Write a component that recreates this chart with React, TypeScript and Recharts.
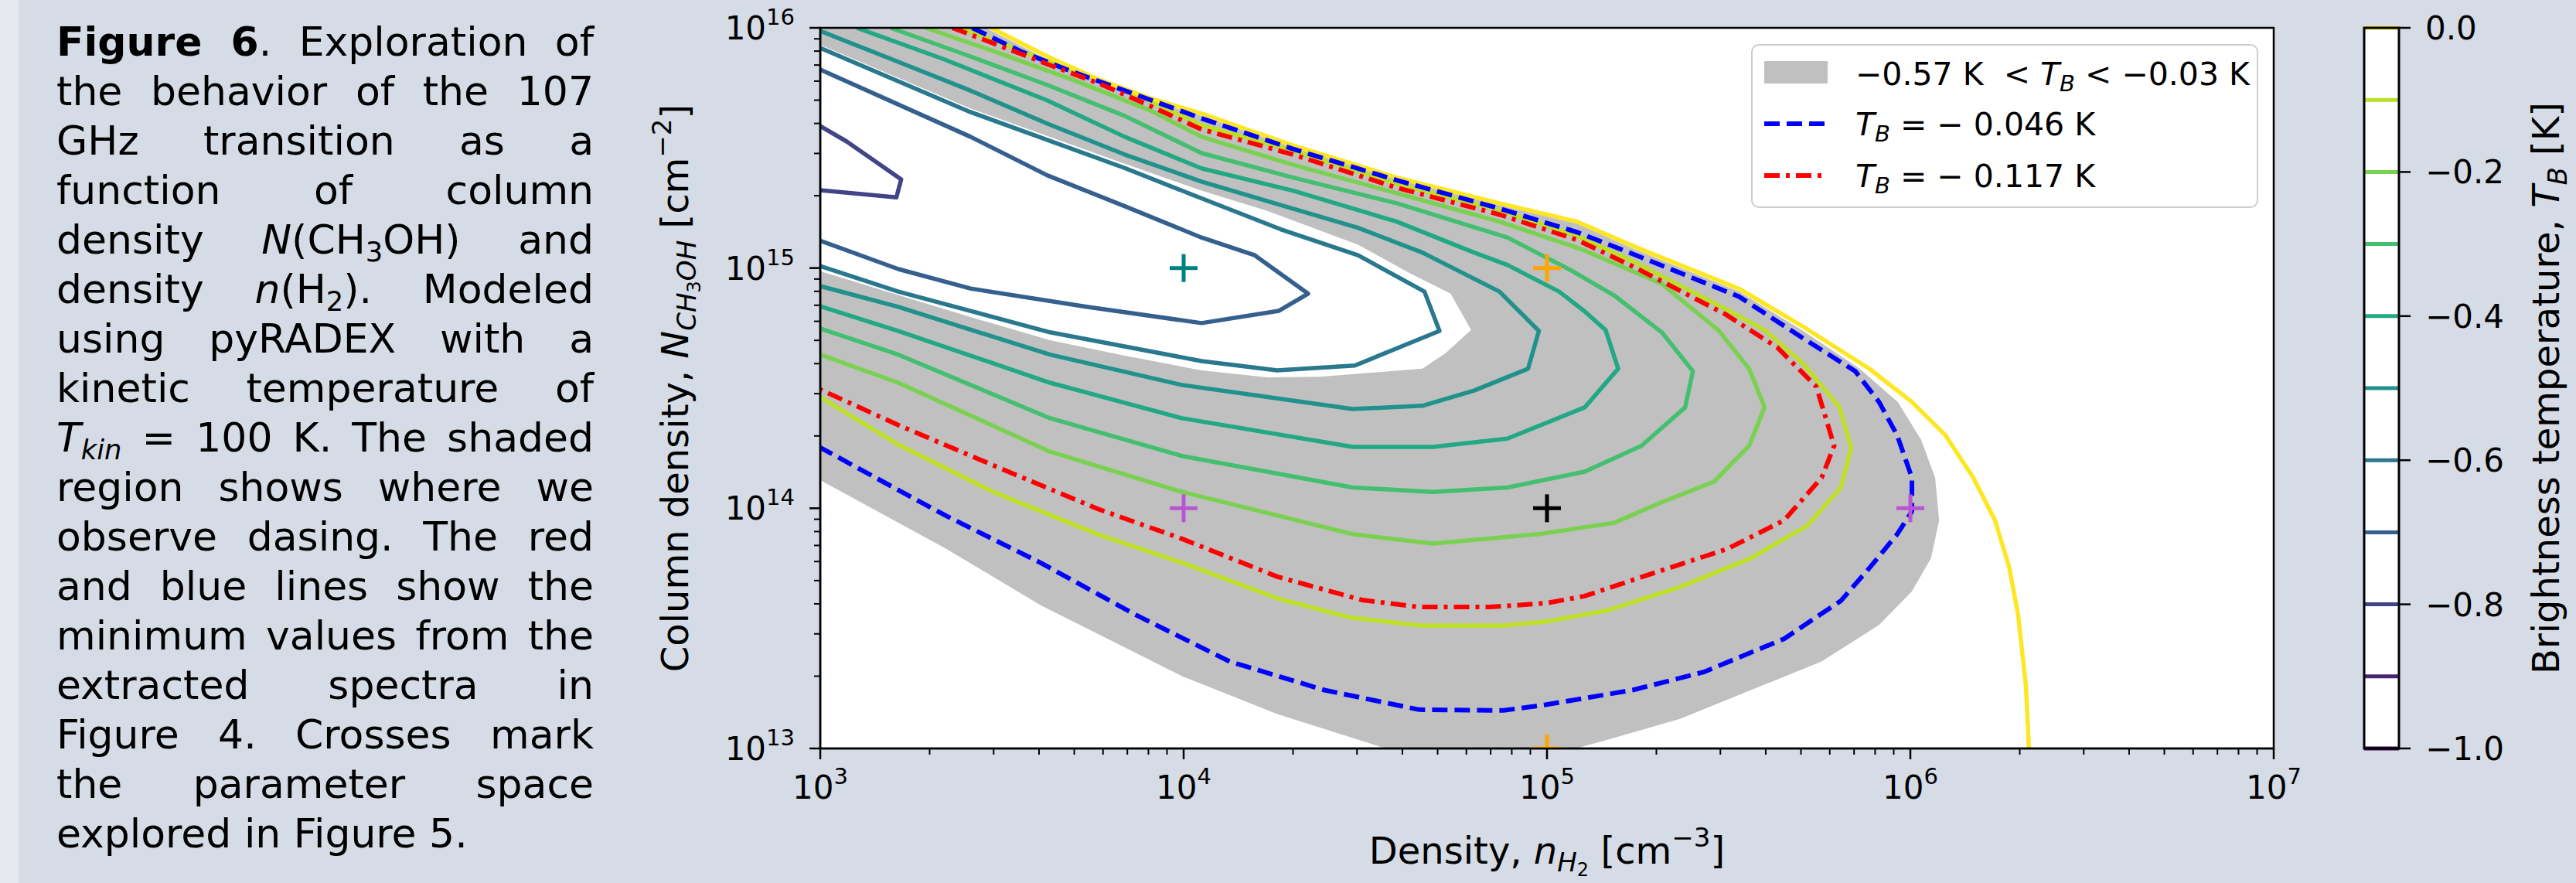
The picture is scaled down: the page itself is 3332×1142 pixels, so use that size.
import React from 'react';
import { ComposedChart, Line, Scatter, XAxis, YAxis, CartesianGrid, ReferenceArea, ReferenceLine } from 'recharts';

const FONT = '"DejaVu Sans", "Liberation Sans", sans-serif';

// axis ticks (log axes, majors + minors)
const xDecades = [1e3, 1e4, 1e5, 1e6, 1e7];
const yDecades = [1e13, 1e14, 1e15, 1e16];
const minorSteps = [2, 3, 4, 5, 6, 7, 8, 9];
const xTicks = [...xDecades, ...xDecades.slice(0, -1).flatMap((d) => minorSteps.map((m) => m * d))];
const yTicks = [...yDecades, ...yDecades.slice(0, -1).flatMap((d) => minorSteps.map((m) => m * d))];

// colorbar
const cbLevels = [-1.0, -0.9, -0.8, -0.7, -0.6, -0.5, -0.4, -0.3, -0.2, -0.1, 0.0];
const cbTicks = [0, -0.2, -0.4, -0.6, -0.8, -1.0];
const viridis = ['#440154', '#482475', '#414487', '#355f8d', '#2a788e', '#21918c', '#22a884', '#44bf70', '#7ad151', '#bddf26', '#fde725'];

// contour lines, [n(H2), N(CH3OH)]
const tb000 = [[2.95e3, 1e16], [4.22e3, 7.6e15], [5.86e3, 6.08e15], [8.09e3, 5.09e15], [1.12e4, 4.4e15], [2.0e4, 3.24e15], [3.86e4, 2.38e15], [7.4e4, 1.86e15], [1.21e5, 1.56e15], [1.76e5, 1.22e15], [3.38e5, 8.2e14], [5.07e5, 5.7e14], [7.73e5, 3.8e14], [1.01e6, 2.77e14], [1.25e6, 2.01e14], [1.49e6, 1.34e14], [1.71e6, 8.9e13], [1.87e6, 5.7e13], [1.98e6, 3.6e13], [2.08e6, 1.82e13], [2.12e6, 1e13]];
const tb010 = [[2.4e3, 1e16], [3.1e3, 8.7e15], [4.28e3, 7.2e15], [5.95e3, 6.04e15], [8.2e3, 4.91e15], [1.12e4, 3.93e15], [2.0e4, 3.08e15], [3.86e4, 2.24e15], [7.4e4, 1.74e15], [1.21e5, 1.36e15], [1.76e5, 1.05e15], [3.11e5, 6.74e14], [3.97e5, 5.52e14], [5.07e5, 4.0e14], [6.38e5, 2.63e14], [6.87e5, 1.79e14], [6.44e5, 1.22e14], [5.22e5, 8.5e13], [3.64e5, 6.2e13], [2.33e5, 4.71e13], [1.48e5, 3.77e13], [9.9e4, 3.37e13], [7.6e4, 3.25e13], [4.45e4, 3.25e13], [2.84e4, 3.52e13], [1.81e4, 4.22e13], [9.9e3, 5.93e13], [5.79e3, 7.8e13], [2.99e3, 1.17e14], [1.64e3, 1.84e14], [1e3, 2.9e14]];
const tb020 = [[1.95e3, 1e16], [3.04e3, 7.94e15], [4.95e3, 6.08e15], [8.09e3, 4.53e15], [1.12e4, 3.52e15], [2.0e4, 2.69e15], [3.86e4, 2.05e15], [7.4e4, 1.56e15], [1.24e5, 1.2e15], [2.07e5, 8.6e14], [2.96e5, 5.52e14], [3.6e5, 3.81e14], [3.97e5, 2.63e14], [3.6e5, 1.82e14], [2.88e5, 1.29e14], [2.07e5, 1.06e14], [1.53e5, 8.7e13], [9.5e4, 7.8e13], [4.85e4, 7.13e13], [2.92e4, 7.8e13], [9.9e3, 1.17e14], [4.29e3, 1.72e14], [1.64e3, 3.33e14], [1e3, 4.36e14]];
const tb030 = [[1.56e3, 1e16], [2.59e3, 7.6e15], [4.22e3, 5.78e15], [6.88e3, 4.3e15], [1.12e4, 3.01e15], [2.0e4, 2.38e15], [3.86e4, 1.86e15], [7.78e4, 1.34e15], [1.17e5, 9.75e14], [1.54e5, 7.64e14], [2.07e5, 5.4e14], [2.52e5, 3.72e14], [2.4e5, 2.63e14], [1.82e5, 1.82e14], [1.27e5, 1.42e14], [7.78e4, 1.22e14], [4.85e4, 1.17e14], [2.92e4, 1.22e14], [9.9e3, 1.65e14], [4.29e3, 2.37e14], [1.64e3, 4.36e14], [1e3, 5.6e14]];
const tb040 = [[1.26e3, 1e16], [2.2e3, 7.38e15], [4.22e3, 4.98e15], [6.88e3, 3.52e15], [1.12e4, 2.6e15], [2.0e4, 2.1e15], [3.86e4, 1.56e15], [6.3e4, 1.16e15], [7.78e4, 1.03e15], [1.08e5, 7.98e14], [1.27e5, 6.6e14], [1.45e5, 5.52e14], [1.57e5, 3.81e14], [1.27e5, 2.63e14], [7.78e4, 1.95e14], [4.85e4, 1.8e14], [2.92e4, 1.8e14], [9.9e3, 2.37e14], [4.29e3, 3.33e14], [1.64e3, 5.47e14], [1e3, 6.93e14]];
const tb050 = [[1e3, 9.7e15], [1.58e3, 7.38e15], [2.59e3, 5.48e15], [4.22e3, 3.99e15], [6.88e3, 2.97e15], [1.12e4, 2.29e15], [1.7e4, 1.9e15], [3.02e4, 1.47e15], [4.54e4, 1.16e15], [7.4e4, 7.98e14], [9.5e4, 5.47e14], [8.87e4, 3.81e14], [6.3e4, 3.09e14], [4.54e4, 2.67e14], [2.92e4, 2.59e14], [9.9e3, 3.26e14], [4.29e3, 4.36e14], [1.64e3, 6.89e14], [1e3, 8.41e14]];
const tb060 = [[1e3, 8.24e15], [2.59e3, 4.46e15], [6.88e3, 2.61e15], [1.12e4, 1.95e15], [1.85e4, 1.45e15], [3.02e4, 1.13e15], [4.6e4, 7.98e14], [5.06e4, 5.47e14], [2.96e4, 3.93e14], [1.81e4, 3.75e14], [1.12e4, 4.1e14], [4.29e3, 5.4e14], [1.64e3, 7.98e14], [1e3, 1.02e15]];
const tb070 = [[1e3, 6.7e15], [2.59e3, 3.52e15], [4.22e3, 2.43e15], [6.88e3, 1.81e15], [1.12e4, 1.34e15], [1.57e4, 1.13e15], [2.2e4, 7.82e14], [1.83e4, 6.64e14], [1.12e4, 5.9e14], [5.45e3, 6.89e14], [2.59e3, 8.22e14], [1.64e3, 9.9e14], [1e3, 1.3e15]];
const tb080 = [[1e3, 3.9e15], [1.18e3, 3.37e15], [1.67e3, 2.34e15], [1.62e3, 1.97e15], [1e3, 2.11e15]];

// observed minima
const tb046 = [[2.62e3, 1e16], [3.59e3, 7.94e15], [4.95e3, 6.56e15], [6.88e3, 5.48e15], [1.12e4, 4.2e15], [2.0e4, 3.13e15], [3.86e4, 2.32e15], [7.4e4, 1.77e15], [1.21e5, 1.41e15], [1.76e5, 1.13e15], [3.38e5, 7.6e14], [5.07e5, 5.1e14], [7.05e5, 3.72e14], [8.2e5, 2.77e14], [9.2e5, 2.01e14], [1.01e6, 1.34e14], [1.01e6, 9.7e13], [9.2e5, 7.8e13], [7.73e5, 5.66e13], [6.44e5, 4.12e13], [4.49e5, 2.86e13], [2.7e5, 2.08e13], [1.72e5, 1.75e13], [9.9e4, 1.52e13], [7.6e4, 1.44e13], [4.45e4, 1.45e13], [2.44e4, 1.75e13], [1.34e4, 2.3e13], [7.38e3, 3.6e13], [4.04e3, 5.93e13], [2.22e3, 9.3e13], [1.42e3, 1.34e14], [1e3, 1.79e14]];
const tb117 = [[2.31e3, 1e16], [3.04e3, 8.55e15], [4.22e3, 7.06e15], [5.86e3, 5.86e15], [8.09e3, 4.73e15], [1.12e4, 3.78e15], [2.0e4, 2.97e15], [3.86e4, 2.16e15], [7.4e4, 1.67e15], [1.21e5, 1.31e15], [1.76e5, 1.0e15], [3.11e5, 6.4e14], [4.31e5, 4.66e14], [5.51e5, 3.21e14], [6.17e5, 1.82e14], [5.7e5, 1.34e14], [4.49e5, 8.9e13], [3.14e5, 6.78e13], [2.0e5, 5.42e13], [1.27e5, 4.31e13], [1.0e5, 4.03e13], [6.98e4, 3.88e13], [4.45e4, 3.88e13], [3.1e4, 4.15e13], [1.81e4, 5.19e13], [9.9e3, 7.46e13], [5.79e3, 9.95e13], [2.99e3, 1.51e14], [1.64e3, 2.22e14], [1e3, 3.12e14]];

// dasing region -0.57 K < T_B < -0.03 K (outer edge, then the inner hole)
const dasingOuter = [[1e3, 1e16], [2.85e3, 1e16], [4.22e3, 7.38e15], [5.86e3, 5.96e15], [8.09e3, 4.98e15], [1.12e4, 4.3e15], [2.0e4, 3.17e15], [3.86e4, 2.36e15], [7.4e4, 1.83e15], [1.21e5, 1.53e15], [1.76e5, 1.19e15], [3.38e5, 7.98e14], [5.07e5, 5.47e14], [7.25e5, 3.81e14], [9.23e5, 2.77e14], [1.07e6, 1.93e14], [1.17e6, 1.34e14], [1.2e6, 8.9e13], [1.14e6, 6.2e13], [1.01e6, 4.51e13], [8.2e5, 3.27e13], [5.7e5, 2.3e13], [3.64e5, 1.75e13], [2.33e5, 1.33e13], [1.48e5, 1.09e13], [1.2e5, 1e13], [3.6e4, 1e13], [1.81e4, 1.39e13], [9.9e3, 2.0e13], [4.04e3, 3.95e13], [2.22e3, 6.78e13], [1e3, 1.31e14]];
const dasingInner = [[1e3, 8.5e15], [2.59e3, 4.62e15], [6.88e3, 2.72e15], [1.12e4, 2.1e15], [1.7e4, 1.73e15], [3.02e4, 1.25e15], [4.18e4, 9.55e14], [5.43e4, 7.82e14], [6.18e4, 5.52e14], [5.26e4, 4.42e14], [4.54e4, 3.81e14], [2.37e4, 3.53e14], [1.7e4, 3.51e14], [1.12e4, 3.75e14], [6.88e3, 4.32e14], [4.29e3, 5.01e14], [2.59e3, 6.25e14], [1e3, 9.7e14]];

// explored parameter space (Figure 5)
const crossTeal = [[1e4, 1e15]];
const crossOrange = [[1e5, 1e15], [1e5, 1e13]];
const crossOrchid = [[1e4, 1e14], [1e6, 1e14]];
const crossBlack = [[1e5, 1e14]];

const pts = (a: number[][]) => a.map(([x, y]) => ({ x, y }));

const contours = [
  { level: -0.8, data: tb080 },
  { level: -0.7, data: tb070 },
  { level: -0.6, data: tb060 },
  { level: -0.5, data: tb050 },
  { level: -0.4, data: tb040 },
  { level: -0.3, data: tb030 },
  { level: -0.2, data: tb020 },
  { level: -0.1, data: tb010 },
  { level: 0.0, data: tb000 },
];
const levelColor = (lv: number) => viridis[Math.round((lv + 1) * 10)];

const isMajor = (v: number) => xDecades.includes(v) || yDecades.includes(v);
const expOf = (v: number) => Math.round(Math.log10(v));

const XTick = (props: any) => {
  const { x, y, payload } = props;
  const v = payload.value;
  const major = isMajor(v);
  return (
    <g>
      <line x1={x} x2={x} y1={y} y2={y + (major ? 14 : 8)} stroke="#000" strokeWidth={major ? 2.5 : 2} />
      {major && (
        <text x={x} y={y + 65} textAnchor="middle" fontFamily={FONT} fontSize={42} fill="#000">
          <tspan>10</tspan>
          <tspan dy={-19} fontSize={29}>{expOf(v)}</tspan>
        </text>
      )}
    </g>
  );
};

const YTick = (props: any) => {
  const { x, y, payload } = props;
  const v = payload.value;
  const major = isMajor(v);
  return (
    <g>
      <line x1={x - (major ? 14 : 8)} x2={x} y1={y} y2={y} stroke="#000" strokeWidth={major ? 2.5 : 2} />
      {major && (
        <text x={x - 33} y={y + 15} textAnchor="end" fontFamily={FONT} fontSize={42} fill="#000">
          <tspan>10</tspan>
          <tspan dy={-19} fontSize={29}>{expOf(v)}</tspan>
        </text>
      )}
    </g>
  );
};

const CbTick = (props: any) => {
  const { x, y, payload } = props;
  const v = payload.value;
  const label = v === 0 ? '0.0' : '\u2212' + Math.abs(v).toFixed(1);
  return (
    <g>
      <line x1={x} x2={x + 15} y1={y} y2={y} stroke="#000" strokeWidth={2.5} />
      <text x={x + 34} y={y + 15} fontFamily={FONT} fontSize={42} fill="#000">{label}</text>
    </g>
  );
};

const Plus = (props: any) => {
  const { cx, cy, color } = props;
  if (cx == null || cy == null) return <g />;
  return (
    <g>
      <line x1={cx - 18} x2={cx + 18} y1={cy} y2={cy} stroke={color} strokeWidth={5} />
      <line x1={cx} x2={cx} y1={cy - 18} y2={cy + 18} stroke={color} strokeWidth={5} />
    </g>
  );
};

const GRAY = '#c0c0c0';

const it = (s: string) => <span style={{ fontStyle: 'italic' }}>{s}</span>;
const sub = (s: string, italic = false) => (
  <span style={{ fontSize: '0.68em', position: 'relative', top: '0.28em', fontStyle: italic ? 'italic' : 'normal' }}>{s}</span>
);

const captionLines: React.ReactNode[] = [
  <><b>Figure 6</b>. Exploration of</>,
  <>the behavior of the 107</>,
  <>GHz transition as a</>,
  <>function of column</>,
  <>density {it('N')}(CH{sub('3')}OH) and</>,
  <>density {it('n')}(H{sub('2')}). Modeled</>,
  <>using pyRADEX with a</>,
  <>kinetic temperature of</>,
  <>{it('T')}{sub('kin', true)} = 100 K. The shaded</>,
  <>region shows where we</>,
  <>observe dasing. The red</>,
  <>and blue lines show the</>,
  <>minimum values from the</>,
  <>extracted spectra in</>,
  <>Figure 4. Crosses mark</>,
  <>the parameter space</>,
  <>explored in Figure 5.</>,
];

const Caption = () => (
  <div style={{ position: 'absolute', left: 73, top: 22, width: 695, fontFamily: FONT, fontSize: 52, lineHeight: '64px', color: '#000' }}>
    {captionLines.map((ln, i) => {
      const last = i === captionLines.length - 1;
      return (
        <div key={i} style={{ height: 64, textAlign: last ? 'left' : 'justify', textAlignLast: last ? 'left' : 'justify' } as React.CSSProperties}>
          {ln}
        </div>
      );
    })}
  </div>
);

const Hidden = () => <g />;

export default function App() {
  return (
    <div style={{ position: 'absolute', left: 0, top: 0, width: 3332, height: 1142, background: '#d6dce5', overflow: 'hidden' }}>
      <div style={{ position: 'absolute', left: 0, top: 0, width: 24, height: 1142, background: '#e6e9ee' }} />
      <Caption />

      <div style={{ position: 'absolute', left: 0, top: 0 }}>
        <ComposedChart width={3332} height={1142} margin={{ top: 36, right: 391, bottom: 74, left: 861 }}>
          <CartesianGrid horizontal={false} vertical={false} fill="#ffffff" fillOpacity={1} />
          <XAxis
            type="number"
            dataKey="x"
            scale="log"
            domain={[1e3, 1e7]}
            allowDataOverflow
            ticks={xTicks}
            interval={0}
            tickSize={0}
            tickMargin={0}
            tickLine={false}
            axisLine={{ stroke: '#000', strokeWidth: 2.5 }}
            tick={(p: any) => <XTick {...p} />}
            height={100}
          />
          <YAxis
            type="number"
            dataKey="y"
            scale="log"
            domain={[1e13, 1e16]}
            allowDataOverflow
            ticks={yTicks}
            interval={0}
            tickSize={0}
            tickMargin={0}
            tickLine={false}
            axisLine={{ stroke: '#000', strokeWidth: 2.5 }}
            tick={(p: any) => <YTick {...p} />}
            width={200}
          />
          <Scatter data={pts(dasingOuter)} line={{ fill: GRAY, stroke: 'none' }} lineJointType="linear" shape={Hidden} isAnimationActive={false} zIndex={50} />
          <Scatter data={pts(dasingInner)} line={{ fill: '#ffffff', stroke: 'none' }} lineJointType="linear" shape={Hidden} isAnimationActive={false} zIndex={60} />
          {contours.map((c) => (
            <Line
              key={c.level}
              data={pts(c.data)}
              dataKey="y"
              type="linear"
              stroke={levelColor(c.level)}
              strokeWidth={5.5}
              strokeLinejoin="round"
              dot={false}
              activeDot={false}
              isAnimationActive={false}
            />
          ))}
          <Line data={pts(tb046)} dataKey="y" type="linear" stroke="#0000ff" strokeWidth={6} strokeDasharray="20 9" dot={false} activeDot={false} isAnimationActive={false} zIndex={450} />
          <Line data={pts(tb117)} dataKey="y" type="linear" stroke="#ff0000" strokeWidth={6} strokeDasharray="20 8 5 8" dot={false} activeDot={false} isAnimationActive={false} zIndex={450} />
          <Scatter data={pts(crossTeal)} shape={(p: any) => <Plus {...p} color="#008080" />} isAnimationActive={false} />
          <Scatter data={pts(crossOrange)} shape={(p: any) => <Plus {...p} color="#ffa500" />} isAnimationActive={false} />
          <Scatter data={pts(crossOrchid)} shape={(p: any) => <Plus {...p} color="#ba55d3" />} isAnimationActive={false} />
          <Scatter data={pts(crossBlack)} shape={(p: any) => <Plus {...p} color="#000000" />} isAnimationActive={false} />
          <ReferenceArea x1={1e3} x2={1e7} y1={1e13} y2={1e16} fill="none" stroke="#000" strokeWidth={2.5} zIndex={700} />
        </ComposedChart>
      </div>

      <div style={{ position: 'absolute', left: 3000, top: 0 }}>
        <ComposedChart width={332} height={1142} margin={{ top: 36, right: 29, bottom: 174, left: 58 }} data={cbLevels.map((v) => ({ x: 0.5, v }))}>
          <CartesianGrid horizontal={false} vertical={false} fill="#ffffff" fillOpacity={1} />
          <XAxis type="number" dataKey="x" domain={[0, 1]} hide />
          <YAxis
            type="number"
            dataKey="v"
            orientation="right"
            domain={[-1, 0]}
            ticks={cbTicks}
            interval={0}
            tickSize={0}
            tickMargin={0}
            tickLine={false}
            axisLine={false}
            tick={(p: any) => <CbTick {...p} />}
            width={200}
          />
          {cbLevels.map((lv) => (
            <ReferenceLine key={lv} y={lv} stroke={levelColor(lv)} strokeWidth={5} />
          ))}
          <Line dataKey="v" stroke="none" dot={false} activeDot={false} isAnimationActive={false} />
          <ReferenceArea x1={0} x2={1} y1={-1} y2={0} fill="none" stroke="#000" strokeWidth={3} zIndex={700} />
        </ComposedChart>
      </div>

      <svg width={3332} height={1142} style={{ position: 'absolute', left: 0, top: 0, pointerEvents: 'none' }}>
        <text x={2001} y={1117} textAnchor="middle" fontFamily={FONT} fontSize={48} fill="#000" style={{ whiteSpace: 'pre' }}>
          <tspan>{'Density, '}</tspan>
          <tspan fontStyle="italic">n</tspan>
          <tspan fontStyle="italic" fontSize={34} dy={10}>H</tspan>
          <tspan fontSize={24} dy={6}>2</tspan>
          <tspan dy={-16}>{' [cm'}</tspan>
          <tspan fontSize={34} dy={-22}>{'\u22123'}</tspan>
          <tspan dy={22}>]</tspan>
        </text>
        <text transform="translate(890,502) rotate(-90)" textAnchor="middle" fontFamily={FONT} fontSize={48} fill="#000" style={{ whiteSpace: 'pre' }}>
          <tspan>{'Column density, '}</tspan>
          <tspan fontStyle="italic">N</tspan>
          <tspan fontStyle="italic" fontSize={34} dy={10}>CH</tspan>
          <tspan fontSize={24} dy={6}>3</tspan>
          <tspan fontStyle="italic" fontSize={34} dy={-6}>OH</tspan>
          <tspan dy={-10}>{' [cm'}</tspan>
          <tspan fontSize={34} dy={-22}>{'\u22122'}</tspan>
          <tspan dy={22}>]</tspan>
        </text>
        <text transform="translate(3310,502) rotate(-90)" textAnchor="middle" fontFamily={FONT} fontSize={48} fill="#000" style={{ whiteSpace: 'pre' }}>
          <tspan>{'Brightness temperature, '}</tspan>
          <tspan fontStyle="italic">T</tspan>
          <tspan fontStyle="italic" fontSize={34} dy={10}>B</tspan>
          <tspan dy={-10}>{' [K]'}</tspan>
        </text>
      </svg>

      <svg width={658} height={214} style={{ position: 'absolute', left: 2265, top: 57, pointerEvents: 'none' }}>
        <rect x={1} y={1} width={654} height={210} rx={9} fill="#ffffff" fillOpacity={0.8} stroke="#cccccc" strokeWidth={2} />
        <rect x={17} y={22} width={82} height={29} fill={GRAY} />
        <text x={135} y={53} fontFamily={FONT} fontSize={41} fill="#000" style={{ whiteSpace: 'pre' }}>
          <tspan>{'\u22120.57 K  < '}</tspan>
          <tspan fontStyle="italic">T</tspan>
          <tspan fontStyle="italic" fontSize={29} dy={8}>B</tspan>
          <tspan dy={-8}>{' < \u22120.03 K'}</tspan>
        </text>
        <line x1={17} x2={99} y1={103} y2={103} stroke="#0000ff" strokeWidth={6} strokeDasharray="20 9" />
        <text x={135} y={118} fontFamily={FONT} fontSize={41} fill="#000" style={{ whiteSpace: 'pre' }}>
          <tspan fontStyle="italic">T</tspan>
          <tspan fontStyle="italic" fontSize={29} dy={8}>B</tspan>
          <tspan dy={-8}>{' = \u2212 0.046 K'}</tspan>
        </text>
        <line x1={17} x2={99} y1={170} y2={170} stroke="#ff0000" strokeWidth={6} strokeDasharray="20 8 5 8" />
        <text x={135} y={185} fontFamily={FONT} fontSize={41} fill="#000" style={{ whiteSpace: 'pre' }}>
          <tspan fontStyle="italic">T</tspan>
          <tspan fontStyle="italic" fontSize={29} dy={8}>B</tspan>
          <tspan dy={-8}>{' = \u2212 0.117 K'}</tspan>
        </text>
      </svg>
    </div>
  );
}
